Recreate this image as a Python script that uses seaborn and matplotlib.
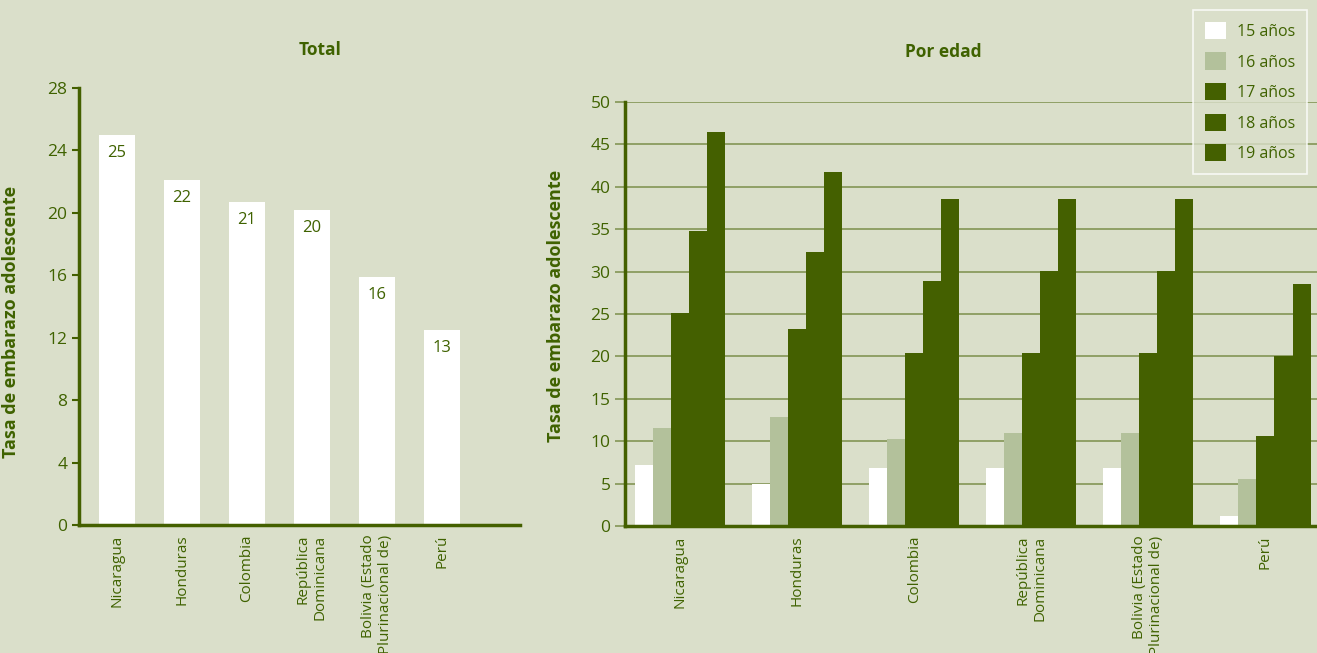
import pandas as pd
import seaborn as sns
import matplotlib.pyplot as plt

# data
paises = ["Nicaragua", "Honduras", "Colombia", "República\nDominicana",
          "Bolivia (Estado\nPlurinacional de)", "Perú"]
total = [25.0, 22.1, 20.7, 20.2, 15.9, 12.5]
total_labels = ["25", "22", "21", "20", "16", "13"]

edades = ["15 años", "16 años", "17 años", "18 años", "19 años"]
e15 = [7.2, 5.0, 6.8, 6.8, 6.8, 1.2]
e16 = [11.6, 12.9, 10.3, 11.0, 11.0, 5.5]
e17 = [25.1, 23.2, 20.4, 20.4, 20.4, 10.6]
e18 = [34.8, 32.3, 28.9, 30.1, 30.1, 20.0]
e19 = [46.5, 41.7, 38.6, 38.6, 38.6, 28.5]

BG = "#dadfca"
DARK = "#446000"
LIGHT = "#b3c19b"
TXT = "#3f6200"
GRID = "#8a9b5e"

sns.set_style("white")
plt.rcParams['font.family'] = ['Open Sans', 'DejaVu Sans']
plt.rcParams['text.color'] = TXT
plt.rcParams['axes.labelcolor'] = TXT
plt.rcParams['xtick.color'] = TXT
plt.rcParams['ytick.color'] = TXT

W, H = 1317, 653
fig = plt.figure(figsize=(W / 100, H / 100), dpi=100, facecolor=BG)

# ---- left chart: Total
ax1 = fig.add_axes([79 / W, 1 - 525 / H, (520 - 79) / W, (525 - 88) / H])
ax1.set_facecolor(BG)
sns.barplot(x=paises, y=total, color="white", width=0.55, saturation=1,
            linewidth=0, ax=ax1)
ax1.bar_label(ax1.containers[0], labels=total_labels, padding=-19,
              color=TXT, fontsize=12)
ax1.set_ylim(0, 28)
ax1.set_yticks(range(0, 29, 4))
ax1.set_xlim(-0.58, 6.2)
for s in ["top", "right"]:
    ax1.spines[s].set_visible(False)
for s in ["left", "bottom"]:
    ax1.spines[s].set_color(DARK)
    ax1.spines[s].set_linewidth(2.5)
ax1.tick_params(axis="y", length=5, width=1.5, color=DARK, labelsize=12.5, left=True)
ax1.tick_params(axis="x", length=0, labelsize=11, pad=7)
plt.setp(ax1.get_xticklabels(), rotation=90, va="top", ha="center", multialignment="right")
ax1.set_ylabel("Tasa de embarazo adolescente", fontsize=13, fontweight="bold")
ax1.yaxis.set_label_coords(-0.134, 0.465)
fig.text(320 / W, 1 - 50 / H, "Total", ha="center", va="center",
         fontsize=12.5, fontweight="bold", color=TXT)

# ---- right chart: Por edad
df = pd.DataFrame({"pais": paises * 5,
                   "edad": [e for e in edades for _ in paises],
                   "tasa": e15 + e16 + e17 + e18 + e19})
ax2 = fig.add_axes([625 / W, 1 - 526 / H, (W - 625) / W, (526 - 102) / H])
ax2.set_facecolor(BG)
ax2.set_axisbelow(True)
ax2.yaxis.grid(True, color=GRID, linewidth=1.3)
sns.barplot(data=df, x="pais", y="tasa", hue="edad", order=paises, hue_order=edades,
            palette=["white", LIGHT, DARK, DARK, DARK], width=0.77, saturation=1,
            linewidth=0, ax=ax2)
ax2.set_ylim(0, 50)
ax2.set_yticks(range(0, 51, 5))
ax2.set_xlim(-0.47, 5.44)
for s in ["top", "right"]:
    ax2.spines[s].set_visible(False)
for s in ["left", "bottom"]:
    ax2.spines[s].set_color(DARK)
    ax2.spines[s].set_linewidth(2.5)
ax2.tick_params(axis="y", length=7, width=1.3, color=GRID, labelsize=12.5, left=True)
ax2.tick_params(axis="x", length=0, labelsize=11, pad=7)
plt.setp(ax2.get_xticklabels(), rotation=90, va="top", ha="center", multialignment="right")
ax2.set_xlabel("")
ax2.set_ylabel("Tasa de embarazo adolescente", fontsize=13, fontweight="bold")
ax2.yaxis.set_label_coords(-0.087, 0.52)
fig.text(943 / W, 1 - 52 / H, "Por edad", ha="center", va="center",
         fontsize=12.5, fontweight="bold", color=TXT)

handles, labels = ax2.get_legend_handles_labels()
ax2.get_legend().remove()
leg = fig.legend(handles, labels, loc="upper right", bbox_to_anchor=(1307 / W, 1 - 10 / H),
                 frameon=True, fancybox=False, facecolor=BG, edgecolor="white",
                 fontsize=11.5, handlelength=1.3, handleheight=1.3, labelspacing=0.78,
                 borderpad=0.75, handletextpad=0.7, borderaxespad=0)
leg.get_frame().set_linewidth(1.2)
for t in leg.get_texts():
    t.set_color(TXT)

fig.savefig("out.png", dpi=100, facecolor=BG)
